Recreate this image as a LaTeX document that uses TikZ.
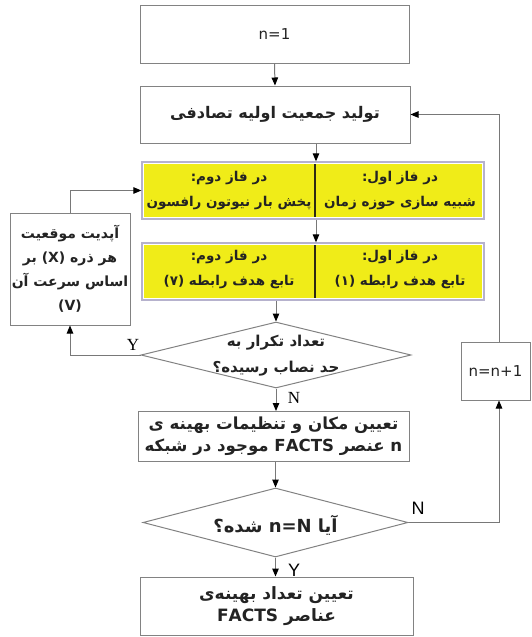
\documentclass[tikz,border=0pt]{standalone}
\usepackage{fontspec}
\setmainfont{DejaVu Sans}
\newfontfamily\fa[Script=Arabic]{DejaVu Sans Bold}
\newfontfamily\tnr{Liberation Serif}
\newfontfamily\lsans{Liberation Sans}
\TeXXeTstate=1
\usetikzlibrary{arrows.meta,shapes.geometric,calc}
\newcommand{\fatxt}[1]{{\fa\beginR #1\endR}}
\definecolor{linegray}{RGB}{120,120,120}
\definecolor{boxgray}{RGB}{130,130,130}
\definecolor{yel}{RGB}{240,236,24}
\definecolor{lav}{RGB}{182,178,205}
\definecolor{divc}{RGB}{45,42,20}
\definecolor{txtc}{RGB}{35,35,35}
\begin{document}
\begin{tikzpicture}[x=1pt,y=-1pt,
  box/.style={draw=boxgray, line width=1pt, inner sep=0pt, align=center, text=txtc, font=\fontsize{15}{21}\selectfont},
  decision/.style={diamond, draw=boxgray, line width=1pt, inner sep=0pt, aspect=4},
  txt/.style={inner sep=0pt, align=center, text=txtc, font=\fontsize{15}{26}\selectfont},
  ytxt/.style={inner sep=0pt, align=center, text=txtc, font=\fontsize{13.5}{25}\selectfont},
  yframe/.style={draw=lav, line width=1.3pt, inner sep=0pt},
  arr/.style={draw=linegray, line width=1pt, -{Triangle[length=8pt,width=6.5pt,color=black]}},
  divider/.style={draw=divc, line width=2pt},
  lblserif/.style={inner sep=0pt, font=\tnr\fontsize{17}{17}\selectfont},
  lblsans/.style={inner sep=0pt, font=\lsans\fontsize{18}{18}\selectfont}
]
\useasboundingbox (0,0) rectangle (531,637);

% main column
\node[box, minimum width=269pt, minimum height=58pt] (n1) at (274.5,34) {n=1};
\node[box, minimum width=270pt, minimum height=57pt, font=\fontsize{16}{21}\selectfont] (b2) at (275,114.5) {\fatxt{تولید جمعیت اولیه تصادفی}};

% yellow block 1
\node[yframe, minimum width=342pt, minimum height=57pt] (y1) at (313,190.5) {};
\fill[yel] ($(y1.south west)+(3,-3)$) rectangle ($(y1.north east)+(-3,3)$);
\draw[divider] ($(y1.north west)+(174,3)$) -- ($(y1.south west)+(174,-3)$);
\node[ytxt] (y1r) at (400,190.5) {\fatxt{در فاز اول:}\\\fatxt{شبیه سازی حوزه زمان}};
\node[ytxt] (y1l) at (229,190.5) {\fatxt{در فاز دوم:}\\\fatxt{پخش بار نیوتون رافسون}};

% yellow block 2
\node[yframe, minimum width=342pt, minimum height=57pt] (y2) at (313,271.5) {};
\fill[yel] ($(y2.south west)+(3,-3)$) rectangle ($(y2.north east)+(-3,3)$);
\draw[divider] ($(y2.north west)+(174,3)$) -- ($(y2.south west)+(174,-3)$);
\node[ytxt] (y2r) at (400,270) {\fatxt{در فاز اول:}\\\fatxt{تابع هدف رابطه (۱)}};
\node[ytxt] (y2l) at (229,270) {\fatxt{در فاز دوم:}\\\fatxt{تابع هدف رابطه (۷)}};

% decision 1
\node[decision, minimum width=270pt, minimum height=66pt] (d1) at (276,355) {};
\node[txt] (d1t) at (276,356) {\fatxt{تعداد تکرار به}\\\fatxt{حد نصاب رسیده؟}};

% box 3
\node[box, minimum width=271pt, minimum height=50pt, font=\fontsize{16.6}{22}\selectfont] (b3) at (273.5,436.5) {\fatxt{تعیین مکان و تنظیمات بهینه ی}\\\fatxt{n عنصر FACTS موجود در شبکه}};

% decision 2
\node[decision, minimum width=265pt, minimum height=69pt] (d2) at (275.5,522.5) {};
\node[txt, font=\fontsize{18}{20}\selectfont] (d2t) at (275.5,525) {\fatxt{آیا n=N شده؟}};

% final box
\node[box, minimum width=273pt, minimum height=58pt, font=\fontsize{17}{22}\selectfont] (b4) at (276.5,606) {\fatxt{تعیین تعداد بهینه‌ی}\\\fatxt{عناصر FACTS}};

% side boxes
\node[box, minimum width=120pt, minimum height=112pt, font=\fontsize{14}{24}\selectfont] (lb) at (70,269) {\fatxt{آپدیت موقعیت}\\\fatxt{هر ذره (X) بر}\\\fatxt{اساس سرعت آن}\\\fatxt{(V)}};
\node[box, minimum width=69pt, minimum height=58pt] (rb) at (495.5,371) {n=n+1};

\coordinate (c316) at (316,0);
\coordinate (fx) at (499,0);

% connectors
\draw[arr] (n1.south) -- (b2.north);
\draw[arr] (b2.south -| c316) -- (y1.north -| c316);
\draw[arr] (y1.south -| c316) -- (y2.north -| c316);
\draw[arr] (d1.north |- y2.south) -- (d1.north);
\draw[arr] (d1.south) -- (d1.south |- b3.north);
\draw[arr] (d2.north |- b3.south) -- (d2.north);
\draw[arr] (d2.south) -- (d2.south |- b4.north);
\draw[arr] (d2.east) -- (d2.east -| fx) -- (rb.south -| fx);
\draw[arr] (rb.north -| fx) -- (b2.east -| fx) -- (b2.east);
\draw[arr] (d1.west) -| (lb.south);
\draw[arr] (lb.north) |- (y1.west);

% labels
\node[lblserif] (ly1) at (133,345) {Y};
\node[lblserif] (ln1) at (294,398) {N};
\node[lblsans] (ln2) at (418,508) {N};
\node[lblsans] (ly2) at (294,570) {Y};
\end{tikzpicture}
\end{document}
